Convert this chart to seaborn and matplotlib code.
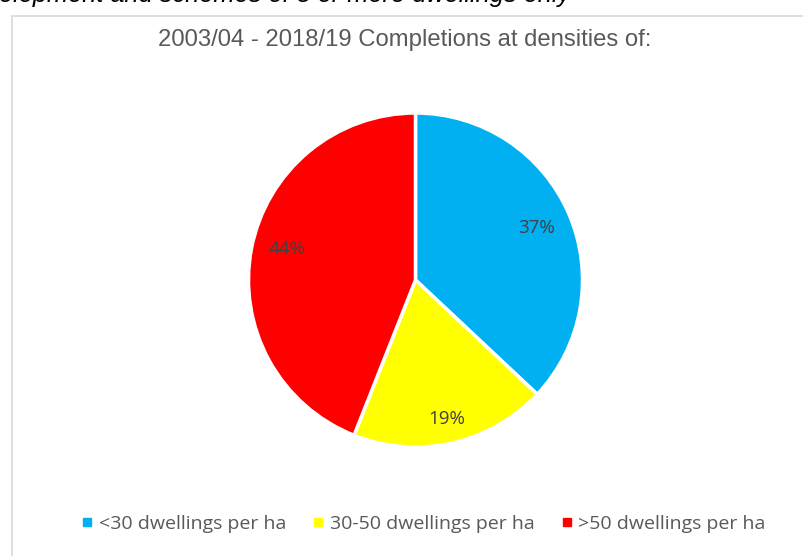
#!/usr/bin/env python3
"""Pie chart: completions by density band, 2003/04 - 2018/19"""

import numpy as np
import matplotlib
matplotlib.use("Agg")
import matplotlib.pyplot as plt
import seaborn as sns
from matplotlib.lines import Line2D
from matplotlib.patches import Rectangle

# Data
categories = ['<30 dwellings per ha', '30-50 dwellings per ha', '>50 dwellings per ha']
shares = [37, 19, 44]
colors = ['#00B0F0', '#FFFF00', '#FF0000']
title = '2003/04 - 2018/19 Completions at densities of:'
caption = 'elopment and schemes of 5 or more dwellings only'

# radial position of each % label (fraction of radius, Excel "best fit")
label_radius = [0.79, 0.85, 0.79]
label_turn = [0, 0, -3]   # small angular nudge (deg) to mimic Excel placement

sns.set_theme(style='white')
plt.rcParams['font.family'] = ['Liberation Sans', 'DejaVu Sans']

W, H = 804, 556
fig = plt.figure(figsize=(W / 100, H / 100), dpi=100)
fig.patch.set_facecolor('white')

# chart area border (light grey, runs off right/bottom edge)
fig.patches.append(Rectangle((12 / W, -0.1), 1.2, 1.1 - 16 / H,
                             transform=fig.transFigure, fill=False,
                             edgecolor='#d9d9d9', linewidth=1.2))

# cut-off caption text above the chart
fig.text(-1 / W, 1 - 2 / H, caption, ha='left', va='baseline',
         fontsize=18.3, style='italic', color='black')

fig.text(405 / W, 1 - 40 / H, title, ha='center', va='center',
         fontsize=17.2, color='#595959')

# pie axes: centre (415.5, 280), radius ~167 px
r = 167
ax = fig.add_axes([(415.5 - r) / W, 1 - (280 + r) / H, 2 * r / W, 2 * r / H])
wedges, texts = ax.pie(
    shares, colors=colors, startangle=90, counterclock=False,
    wedgeprops=dict(edgecolor='white', linewidth=2.5))
for w in wedges:
    w.set_clip_on(False)
ax.set_aspect('equal')
ax.set_xlim(-1, 1)
ax.set_ylim(-1, 1)
ax.axis('off')

for w, share, rad, turn in zip(wedges, shares, label_radius, label_turn):
    ang = np.deg2rad((w.theta1 + w.theta2) / 2 + turn)
    ax.text(rad * np.cos(ang), rad * np.sin(ang), f'{share}%',
            ha='center', va='center', color='#404040', fontsize=13.5,
            family=['Open Sans', 'DejaVu Sans'])

handles = [Line2D([0], [0], marker='s', linestyle='none', markersize=6,
                  markerfacecolor=c, markeredgecolor=c) for c in colors]
fig.legend(handles, categories, loc='center', bbox_to_anchor=(423 / W, 1 - 524 / H),
           ncol=3, frameon=False, handlelength=0.7, handletextpad=0.25,
           columnspacing=1.3, prop={'family': ['Open Sans', 'DejaVu Sans'], 'size': 14},
           labelcolor='#595959')

fig.savefig('out.png', dpi=100)
plt.close(fig)
